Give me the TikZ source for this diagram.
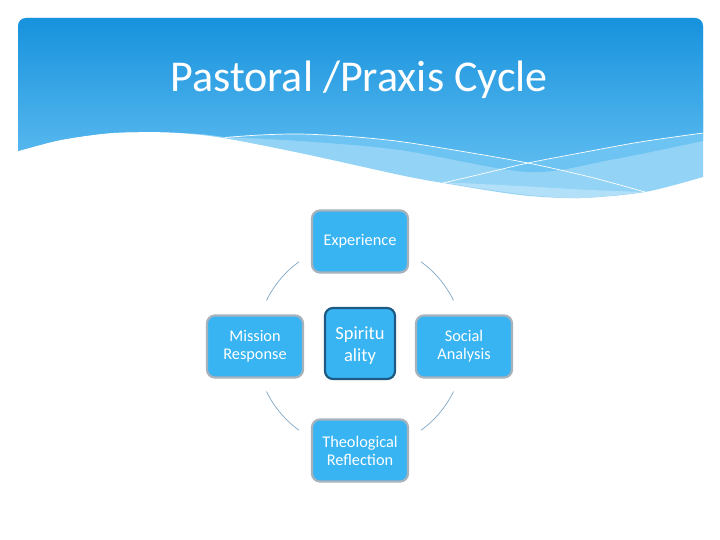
\documentclass[tikz,border=0pt]{standalone}
\usepackage{fontspec}
\setmainfont{Carlito}
\definecolor{hdrtop}{HTML}{1792DD}
\definecolor{hdrbot}{HTML}{5BBAEF}
\definecolor{bandmid}{HTML}{6DC4F2}
\definecolor{bandlight}{HTML}{93D3F6}
\definecolor{bandpale}{HTML}{B2E0F8}
\definecolor{boxfill}{HTML}{38B4F3}
\definecolor{boxedge}{HTML}{A7B2BC}
\definecolor{coreedge}{HTML}{1D5B85}
\definecolor{arccol}{HTML}{7FA8C6}
\tikzset{
  cyclebox/.style={draw=boxedge, line width=2.2pt, fill=boxfill, rounded corners=8pt,
    minimum width=96pt, minimum height=62pt, inner sep=0pt, align=center, text=white,
    font=\fontsize{16.3}{18}\selectfont},
  corebox/.style={draw=coreedge, line width=2.2pt, fill=boxfill, rounded corners=8pt,
    minimum width=70pt, minimum height=71pt, inner sep=0pt, align=center, text=white,
    font=\fontsize{18.5}{22}\selectfont},
  cyclearc/.style={draw=arccol, line width=0.7pt},
  waveline/.style={draw=white, line width=0.7pt}
}
\begin{document}
\begin{tikzpicture}[x=1pt,y=-1pt]
\useasboundingbox (0,0) rectangle (720,540);
\fill[white] (0,0) rectangle (720,540);
% header base (light band)
\fill[bandlight] (18,151) [rounded corners=8pt] -- (18,18) -- (703,18) [sharp corners] -- (703,177)
  -- plot[smooth, tension=0.5] coordinates {(703,177) (645,192) (580,198) (520,195) (443,183) (400,175) (300,153) (217,137) (160,132) (110,133) (60,140) (18,151)} -- cycle;
% pale band near bottom
\fill[bandpale] plot[smooth, tension=0.5] coordinates {(440,182) (520,194) (580,198) (645,192)}
  -- plot[smooth, tension=0.5] coordinates {(645,192) (590,190) (520,186) (440,182)} -- cycle;
% medium band
\fill[bandmid] (18,151) -- (18,100) -- (703,100) -- (703,141)
  -- plot[smooth, tension=0.5] coordinates {(703,141) (610,160) (528,172) (400,150) (300,141) (225,137)}
  -- plot[smooth, tension=0.5] coordinates {(225,137) (200,134) (160,132) (110,133) (60,140) (18,151)} -- cycle;
% main gradient
\shade[top color=hdrtop, bottom color=hdrbot] (18,151) [rounded corners=8pt] -- (18,18) -- (703,18) [sharp corners] -- (703,133)
  -- plot[smooth, tension=0.5] coordinates {(703,133) (640,142) (580,153) (528,163)}
  -- plot[smooth, tension=0.5] coordinates {(528,163) (460,151) (400,141.5) (350,136.5) (300,134) (260,135) (225,137)}
  -- plot[smooth, tension=0.5] coordinates {(225,137) (200,134) (160,132) (110,133) (60,140) (18,151)} -- cycle;
% thin white lines
\draw[waveline] plot[smooth, tension=0.5] coordinates {(225,137.5) (260,135) (300,134) (350,136.5) (400,141.5) (460,151) (528,163) (590,177) (645,192)};
\draw[waveline] plot[smooth, tension=0.5] coordinates {(443,183) (490,172) (528,163) (580,153) (640,142) (703,133)};
% title
\node[text=white, font=\fontsize{44}{50}\selectfont, anchor=base] (title) at (359,92) {Pastoral /Praxis Cycle};
% cycle
\coordinate (c) at (360,346);
\node[cyclebox] (exp) at (360,241.5) {Experience};
\node[cyclebox] (soc) at (464,346.5) {Social\\Analysis};
\node[cyclebox] (theo) at (360,450.5) {Theological\\Reflection};
\node[cyclebox] (mis) at (255,346.5) {Mission\\Response};
\node[corebox] (spir) at (360,343.5) {\raisebox{-2pt}[\height][\depth]{\parbox{60pt}{\centering Spiritu\\ality}}};
\draw[cyclearc] ([shift={(-126:104)}]c) arc[start angle=-126, end angle=-154, radius=104];
\draw[cyclearc] ([shift={(-26:104)}]c) arc[start angle=-26, end angle=-54, radius=104];
\draw[cyclearc] ([shift={(26:104)}]c) arc[start angle=26, end angle=54, radius=104];
\draw[cyclearc] ([shift={(126:104)}]c) arc[start angle=126, end angle=154, radius=104];
\end{tikzpicture}
\end{document}
